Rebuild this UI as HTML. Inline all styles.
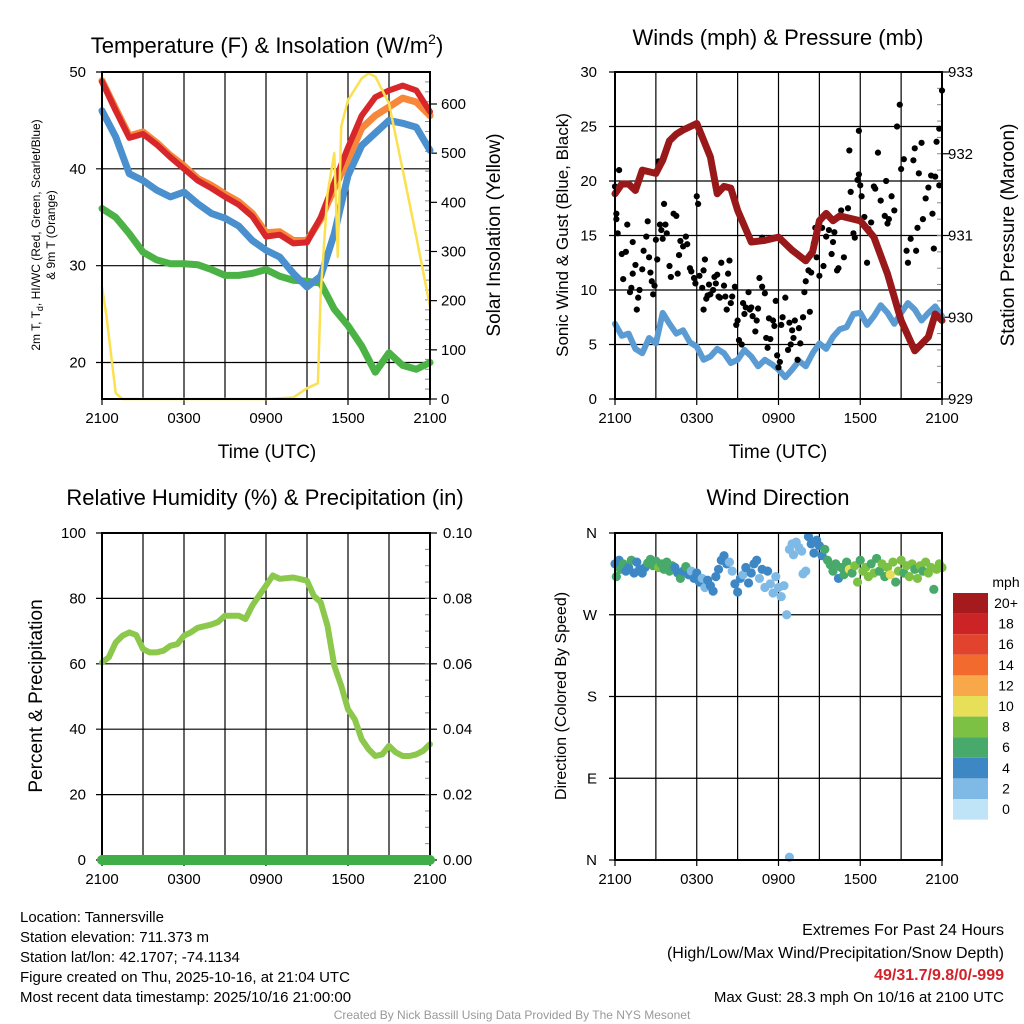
<!DOCTYPE html>
<html><head><meta charset="utf-8"><style>
body{margin:0;background:#fff;}
svg{display:block;font-family:"Liberation Sans",Arial,sans-serif;}
</style></head><body>
<svg id="c" width="1024" height="1024" viewBox="0 0 1024 1024"></svg>
<script>
// ---------- DATA ----------
const hours = [0,1,2,3,4,5,6,7,8,9,10,11,12,13,14,15,16,17,18,19,20,21,22,23,24];
const xTickLabels = ["2100","0300","0900","1500","2100"];
const tempRed    = [49,46,43.2,43.6,42.5,41.2,40,38.8,38,37.1,36.3,35.1,33,33.2,32.3,32.4,35,38.6,42.2,45.5,47.4,48.1,48.6,48.1,45.9];
const tempOrange = [49.1,46.2,43.4,43.8,42.7,41.4,40.3,39,38.3,37.4,36.6,35.4,33.4,33.5,32.6,32.6,34.8,38,41,44.2,45.5,46.4,47.3,46.9,45.5];
const tempBlue   = [46,43.3,39.5,38.8,37.8,37.1,37.6,36.4,35.4,34.9,34.1,32.6,31.6,30.9,29.2,27.8,28.9,33.3,39.3,42.4,43.7,45,44.7,44.3,41.9];
const tempGreen  = [35.9,35,33.3,31.4,30.6,30.2,30.2,30.1,29.6,29,29,29.2,29.6,28.9,28.5,28.4,28.2,25.5,23.8,21.7,19,21,19.7,19.3,20];
const solarHours = [0,0.3,1,1.5,6,12,14,15,15.5,15.8,16,16.5,17,17.25,17.5,18,19,19.5,20,21,22,23,24];
const solarVals  = [228,174,12,0,0,0,3,22,28,32,215,418,500,289,554,608,652,662,656,601,466,330,188];
const pressHours = [0,0.5,1,1.5,2,3,3.5,4,4.5,5,6,7,7.5,8,8.5,9,10,11,12,13,14,14.5,15,15.5,16,16.5,17,18,19,20,21,22,23,23.5,24];
const pressure   = [931.51,931.63,931.63,931.55,931.8,931.76,931.92,932.16,932.24,932.29,932.37,931.96,931.51,931.6,931.58,931.31,930.92,930.94,930.98,930.82,930.69,930.8,931.18,931.27,931.18,931.24,931.22,931.18,930.98,930.53,929.96,929.59,929.76,930.04,929.96];
const windHours = [0,0.5,1,1.5,2,2.5,3,3.5,4,4.5,5,5.5,6,6.5,7,7.5,8,8.5,9,9.5,10,10.5,11,11.5,12,12.5,13,13.5,14,14.5,15,15.5,16,16.5,17,17.5,18,18.5,19,19.5,20,20.5,21,21.5,22,22.5,23,23.5,24];
const windSpeed = [6.9,5.8,6,4.6,4.2,5.6,5.1,7.9,6.9,6,6.3,5.2,4.8,3.6,3.9,4.6,4.2,3.3,3.6,4.5,3.9,3,3.6,3.2,2.7,2,2.7,3.5,3,4.2,5.1,4.6,5.7,6.4,6.6,7.8,7.9,6.8,7.6,8.6,7.9,6.9,7.9,8.8,8.2,7.2,7.9,8.5,7.6];
const gustHours = [0,0.1,0.1,0.2,0.3,0.5,0.6,0.8,0.9,1.1,1.2,1.3,1.3,1.5,1.6,1.7,1.8,2,2.1,2.3,2.4,2.5,2.6,2.7,2.8,2.9,3,3.1,3.2,3.3,3.4,3.5,3.6,3.7,3.8,4,4.1,4.3,4.5,4.6,4.7,4.8,5,5.2,5.3,5.5,5.6,5.8,5.9,6,6.1,6.2,6.4,6.5,6.5,6.6,6.7,6.8,6.9,7,7.2,7.3,7.4,7.5,7.6,7.7,7.8,8,8.1,8.2,8.3,8.4,8.5,8.6,8.8,8.9,9,9.1,9.3,9.4,9.5,9.6,9.8,9.9,10,10.1,10.3,10.4,10.5,10.6,10.8,10.8,11,11.1,11.2,11.3,11.4,11.6,11.7,11.8,11.9,12,12.1,12.2,12.3,12.5,12.7,12.8,12.9,13,13.1,13.2,13.4,13.5,13.6,13.8,13.9,14,14.2,14.3,14.4,14.6,14.7,14.8,15,15.2,15.3,15.5,15.7,15.9,16,16.1,16.3,16.4,16.5,16.6,16.8,16.9,17.1,17.2,17.3,17.5,17.6,17.8,17.9,17.9,18,18.1,18.3,18.5,18.6,18.8,19,19.1,19.3,19.5,19.8,19.9,20,20.1,20.3,20.5,20.7,20.9,21,21.2,21.4,21.5,21.7,21.9,22,22.1,22.2,22.3,22.5,22.6,22.8,23,23.2,23.3,23.4,23.5,23.6,23.8,23.8,24];
const gustSpeed = [19.5,17,16.5,15.2,21,13.3,11,13.5,16,9.8,10.2,14.4,11.5,12.3,8.2,9.3,10,11.9,13.6,14.9,16.3,13,11.6,10.8,9.6,10.4,14.6,12.8,21.8,16,15.5,14.7,17.9,16,15.2,12.2,11.2,17,16.8,11.5,13.2,14.5,14,14.9,14.2,12,11.7,11.1,10.6,18.6,17.9,11.3,10.2,11.8,8.2,12.8,9.2,9.5,10.5,9.6,10,11.2,10.6,11.4,9.4,9.3,12.5,10.4,9.4,8.2,11.5,12.7,8.8,9.4,10.3,6.8,7.2,5.4,5,8.8,7.8,8.4,9.8,8.2,8.4,7.6,6.2,7.2,8.3,11.1,10.3,14.8,9.7,5.6,4.7,7.4,5.5,7.2,6.7,9,4,2.9,3.4,6.8,7.5,9.3,4.5,7,5,6.3,5.6,7.2,3.6,6.5,5.1,7.5,9.8,10.8,11.8,8,11.6,14.3,15.7,13,11.3,15.7,12.2,14.9,15.5,13.3,14.4,15.3,11.8,12,16.7,17.3,13,16.7,17.5,22.8,19,15.2,14.8,20.1,24.6,20.6,19.6,18.6,16.7,12.5,15.6,16.2,19.5,19.3,22.6,18.2,16.8,20,16.1,16.5,18.6,17.3,25,27,21.1,22,13.6,12.5,14.7,21.9,23,13.6,15.7,20.7,23.5,16.5,18.4,19.4,20.5,17,13.8,20.4,23.6,24.8,19.6,28.3];
const rhHours = [0,0.5,1,1.5,2,2.5,3,3.5,4,4.5,5,5.5,6,6.5,7,8,8.5,9,10,10.5,11,12,12.5,13,14,15,15.5,16,16.5,17,17.5,18,18.5,19,19.5,20,20.5,21,21.5,22,22.5,23,23.5,24];
const rhVals  = [60.4,62,66.5,68.6,69.6,68.8,64.5,63.5,63.5,64,65.5,66,68.6,69.6,71,72,72.8,74.7,74.7,73.7,77.8,83.9,87,86,86.4,85.4,80.8,78.8,71.6,59.4,53.3,46.1,43,36.9,33.9,31.8,32.3,34.9,32.9,31.8,31.8,32.3,33.4,35.4];
const precipHours = [0,24];
const precipVals  = [0,0];
const dirHours = [0,0.1,0.3,0.4,0.6,0.8,1,1.2,1.4,1.6,1.8,2,2.2,2.4,2.6,2.8,3,3.2,3.4,3.6,3.8,4,4.2,4.4,4.6,4.8,5,5.2,5.4,5.6,5.8,6,6.2,6.4,6.6,6.8,7,7.2,7.4,7.6,7.8,8,8.2,8.4,8.6,8.8,9,9.2,9.4,9.6,9.8,10,10.2,10.4,10.6,10.8,11,11.2,11.4,11.6,11.8,12,12.2,12.4,12.6,12.8,12.8,13,13.1,13.3,13.5,13.7,13.8,14,14.2,14.4,14.6,14.8,15,15.2,15.4,15.6,15.8,16,16.2,16.4,16.6,16.8,17,17.2,17.4,17.6,17.8,18,18.2,18.4,18.6,18.8,19,19.2,19.4,19.6,19.8,20,20.2,20.4,20.6,20.8,21,21.2,21.4,21.6,21.8,22,22.2,22.4,22.6,22.8,23,23.2,23.4,23.6,23.8,24];
const dirVals  = [326,312,330,320,326,318,322,330,316,328,320,316,322,327,331,324,329,322,326,320,328,318,324,322,316,310,318,323,314,318,310,316,306,310,300,308,302,296,312,320,330,335,326,328,318,304,295,310,314,322,305,316,326,330,310,320,300,318,304,294,312,300,290,302,270,3,342,348,336,350,344,340,315,318,356,348,338,352,346,335,342,330,325,318,326,310,322,314,328,320,316,324,306,330,318,322,312,326,316,332,318,326,312,322,314,328,306,318,330,316,324,312,326,320,310,324,318,328,316,322,298,320,326,322];
const dirSpeed = [5,6,4,6,7,5,4,6,5,4,4,5,4,7,6,7,7,8,6,7,6,7,6,5,4,6,5,7,4,3,4,4,4,3,3,4,4,4,4,4,4,4,4,3,3,4,4,4,3,4,4,4,4,4,3,4,3,4,3,3,2,3,3,2,2,2,2,2,2,2,2,2,2,2,4,4,4,4,4,4,6,6,6,6,6,4,6,6,6,10,6,8,8,6,8,8,8,6,8,6,6,8,6,8,10,8,6,8,8,6,8,8,8,6,8,8,6,8,8,8,6,8,8,8];
const cbLabels = ["20+","18","16","14","12","10","8","6","4","2","0"];
const cbColors = ["#a51a1c","#cc2326","#e1432c","#f26a2e","#f8a848","#e7df57","#7cc143","#47a96a","#3e87c5","#7fbae6","#bfe3f7"];

// ---------- HELPERS ----------
const NS="http://www.w3.org/2000/svg", svg=document.getElementById('c');
function el(tag,attrs,parent){const e=document.createElementNS(NS,tag);for(const k in attrs)e.setAttribute(k,attrs[k]);(parent||svg).appendChild(e);return e;}
function txt(s,x,y,size,anchor,parent,extra){const t=el('text',Object.assign({x:x,y:y,'font-size':size,'text-anchor':anchor||'middle',fill:'#000'},extra||{}),parent);t.textContent=s;return t;}
function lin(d0,d1,r0,r1){return v=>r0+(v-d0)/(d1-d0)*(r1-r0);}
function panel(name,x0,x1,y0,y1){
  const g=el('g',{});
  
  
  const xs=lin(0,24,x0,x1);
  for(let h=0;h<=24;h+=3){const l=el('line',{x1:xs(h),x2:xs(h),y1:y0,y2:y1,stroke:'#000','stroke-width':1.2},g);
    }
  xTickLabels.forEach((s,i)=>{const h=i*6;el('line',{x1:xs(h),x2:xs(h),y1:y1,y2:y1+6,stroke:'#000','stroke-width':1.2},g);
    const t=txt(s,xs(h),y1+24,15,'middle',g);});
  return {g,xs};
}
function hgrid(g,x0,x1,ys){ys.forEach(y=>{const l=el('line',{x1:x0-6,x2:x1,y1:y,y2:y,stroke:'#000','stroke-width':1.2},g);});}
function frame(g,x0,x1,y0,y1){const r=el('rect',{x:x0,y:y0,width:x1-x0,height:y1-y0,fill:'none',stroke:'#000','stroke-width':2},g);}
function path(g,xsArr,ysArr,xs,ys,color,w,name){let d='';xsArr.forEach((h,i)=>{d+=(i?'L':'M')+xs(h).toFixed(1)+','+ys(ysArr[i]).toFixed(1);});
  const p=el('path',{d:d,fill:'none',stroke:color,'stroke-width':w,'stroke-linejoin':'round','stroke-linecap':'round'},g);
  return p;}
function rotLabel(s,x,y,size,g,name){const t=txt(s,x,y,size,'middle',g,{transform:`rotate(-90 ${x} ${y})`});return t;}
function minorRight(g,x,y0,y1,n){for(let i=1;i<n;i++){const y=y0+(y1-y0)*i/n;el('line',{x1:x-5,x2:x,y1:y,y2:y,stroke:'#888','stroke-width':1},g);}}

// ---------- PANEL 1: Temperature ----------
(function(){
  const X0=102,X1=430,Y0=72,Y1=399;
  const {g,xs}=panel('temperature-panel',X0,X1,Y0,Y1);
  const ys=lin(20,50,362.5,72), yr=lin(0,600,399,104);
  hgrid(g,X0,X1,[ys(50),ys(40),ys(30),ys(20)]);
  [50,40,30,20].forEach(v=>{const t=txt(String(v),86,ys(v)+5,15,'end',g);});
  [0,100,200,300,400,500,600].forEach(v=>{el('line',{x1:X1,x2:X1+7,y1:yr(v),y2:yr(v),stroke:'#000','stroke-width':1.2},g);
    const t=txt(String(v),441,yr(v)+5,15,'start',g);});
  minorRight(g,X1,Y0,Y1,33);
  path(g,hours,tempGreen,xs,ys,'#4bb345',7,'dewpoint-line');
  path(g,hours,tempBlue,xs,ys,'#4a8fce',7,'windchill-line');
  path(g,hours,tempOrange,xs,ys,'#f7873a',7,'temp-9m-line');
  path(g,hours,tempRed,xs,ys,'#d7272a',6,'temp-2m-line');
  path(g,solarHours,solarVals,xs,yr,'#fbe14f',2.5,'solar-line');
  frame(g,X0,X1,Y0,Y1);
  const t=el('text',{x:267,y:53,'font-size':22,'text-anchor':'middle'},g);
  
  t.innerHTML='Temperature (F) &amp; Insolation (W/m<tspan dy="-9" font-size="14">2</tspan><tspan dy="9">)</tspan>';
  const tl=txt('Time (UTC)',267,458,19,'middle',g);
  const a=el('text',{x:40,y:235,'font-size':12,'text-anchor':'middle',transform:'rotate(-90 40 235)'},g);
  
  a.innerHTML='2m T, T<tspan dy="3" font-size="9">d</tspan><tspan dy="-3">, HI/WC (Red, Green, Scarlet/Blue)</tspan>';
  rotLabel('& 9m T (Orange)',55,235,12,g,'y-axis-title-2');
  rotLabel('Solar Insolation (Yellow)',500,235,19,g,'right-axis-title');
})();

// ---------- PANEL 2: Winds ----------
(function(){
  const X0=615,X1=942,Y0=72,Y1=399;
  const {g,xs}=panel('winds-panel',X0,X1,Y0,Y1);
  const ys=lin(0,30,399,72), yp=lin(929,933,399,72);
  hgrid(g,X0,X1,[0,5,10,15,20,25,30].map(ys));
  [0,5,10,15,20,25,30].forEach(v=>{const t=txt(String(v),597,ys(v)+5,15,'end',g);});
  [929,930,931,932,933].forEach(v=>{el('line',{x1:X1,x2:X1+7,y1:yp(v),y2:yp(v),stroke:'#000','stroke-width':1.2},g);
    const t=txt(String(v),948,yp(v)+5,15,'start',g);});
  minorRight(g,X1,Y0,Y1,20);
  path(g,windHours,windSpeed,xs,ys,'#5a9bd4',6,'sonic-wind-line');
  gustHours.forEach((h,i)=>{const c=el('circle',{cx:xs(h),cy:ys(gustSpeed[i]),r:3.1,fill:'#000'},g);
    });
  path(g,pressHours,pressure,xs,yp,'#99191b',7,'pressure-line');
  frame(g,X0,X1,Y0,Y1);
  const t=txt('Winds (mph) & Pressure (mb)',778,45,22,'middle',g);
  const tl=txt('Time (UTC)',778,458,19,'middle',g);
  rotLabel('Sonic Wind & Gust (Blue, Black)',568,235,17,g,'y-axis-title');
  rotLabel('Station Pressure (Maroon)',1014,235,19,g,'right-axis-title');
})();

// ---------- PANEL 3: RH ----------
(function(){
  const X0=102,X1=430,Y0=533,Y1=860;
  const {g,xs}=panel('humidity-panel',X0,X1,Y0,Y1);
  const ys=lin(0,100,860,533), yr=lin(0,0.1,860,533);
  hgrid(g,X0,X1,[0,20,40,60,80,100].map(ys));
  [0,20,40,60,80,100].forEach(v=>{const t=txt(String(v),86,ys(v)+5,15,'end',g);});
  ["0.00","0.02","0.04","0.06","0.08","0.10"].forEach(s=>{const v=parseFloat(s);el('line',{x1:X1,x2:X1+7,y1:yr(v),y2:yr(v),stroke:'#000','stroke-width':1.2},g);
    const t=txt(s,443,yr(v)+5,15,'start',g);});
  minorRight(g,X1,Y0,Y1,20);
  path(g,rhHours,rhVals,xs,ys,'#8cc84b',6,'rh-line');
  frame(g,X0,X1,Y0,Y1);
  path(g,precipHours,precipVals,xs,yr,'#3fae49',10,'precip-line');
  const t=txt('Relative Humidity (%) & Precipitation (in)',265,505,22,'middle',g);
  rotLabel('Percent & Precipitation',42,696,19,g,'y-axis-title');
})();

// ---------- PANEL 4: Wind Direction ----------
(function(){
  const X0=615,X1=942,Y0=533,Y1=860;
  const {g,xs}=panel('wind-direction-panel',X0,X1,Y0,Y1);
  const ys=lin(0,360,860,533);
  hgrid(g,X0,X1,[0,90,180,270,360].map(ys));
  [["N",360],["W",270],["S",180],["E",90],["N",0]].forEach(([s,v])=>{const t=txt(s,597,ys(v)+5,15,'end',g);});
  dirHours.forEach((h,i)=>{const sp=dirSpeed[i];const idx=Math.min(10,Math.floor(sp/2));
    const c=el('circle',{cx:xs(h),cy:ys(dirVals[i]),r:4.6,fill:cbColors[10-idx]},g);
    });
  frame(g,X0,X1,Y0,Y1);
  const t=txt('Wind Direction',778,505,22,'middle',g);
  rotLabel('Direction (Colored By Speed)',566,696,16,g,'y-axis-title');
  const lg=el('g',{},g);
  const m=txt('mph',1006,587,14,'middle',lg);
  cbLabels.forEach((s,i)=>{const y=593+i*20.6;const r=el('rect',{x:953,y:y,width:35,height:20.6,fill:cbColors[i]},lg);
    
    const tt=txt(s,1006,y+15,14,'middle',lg);});
})();

// ---------- FOOTER ----------
(function(){
  const g=el('g',{});
  const left=["Location: Tannersville","Station elevation: 711.373 m","Station lat/lon: 42.1707; -74.1134","Figure created on Thu, 2025-10-16, at 21:04 UTC","Most recent data timestamp: 2025/10/16 21:00:00"];
  left.forEach((s,i)=>{const t=txt(s,20,922+i*20,15,'start',g);});
  const r1=txt('Extremes For Past 24 Hours',1004,935,16,'end',g);
  const r2=txt('(High/Low/Max Wind/Precipitation/Snow Depth)',1004,958,16,'end',g);
  const r3=txt('49/31.7/9.8/0/-999',1004,980,16,'end',g,{fill:'#d2232a','font-weight':'bold'});
  const r4=txt('Max Gust: 28.3 mph On 10/16 at 2100 UTC',1004,1002,15,'end',g);
  const c=txt('Created By Nick Bassill Using Data Provided By The NYS Mesonet',512,1019,12,'middle',g,{fill:'#999'});
})();
</script>
</body></html>
